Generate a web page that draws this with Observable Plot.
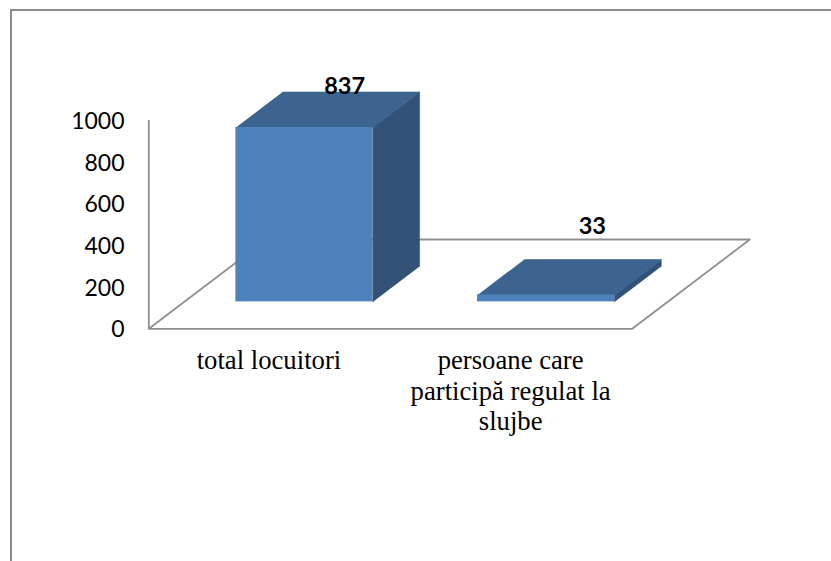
<!DOCTYPE html>
<html>
<head>
<meta charset="utf-8">
<script src="https://cdn.jsdelivr.net/npm/d3@7"></script>
<script src="https://cdn.jsdelivr.net/npm/@observablehq/plot@0.6"></script>
<style>
html,body{margin:0;padding:0;background:#fff;overflow:hidden}
#wrap{position:relative;width:831px;height:561px}
#frame{position:absolute;left:10px;top:9px;right:0;bottom:0;border-top:2px solid #8c8c8c;border-left:2px solid #8c8c8c}
#wrap svg{position:absolute;left:0;top:0;background:transparent}
</style>
</head>
<body>
<div id="wrap"><div id="frame"></div></div>
<script>
const categories = ["total locuitori", "persoane care\nparticipă regulat la\nslujbe"];
const values = [837, 33];
const yTicks = [0, 200, 400, 600, 800, 1000];

// projection of the 3D box: depth d (0 front, 1 back) shifts x and y in data units
const depthX = 0.4866, depthY = 428.7;
const barGap = 0.2135, barWidth = 0.5665;
const depthFront = 0.3015, depthBack = 0.699;
const P = (x, v, d) => ({x: x + d * depthX, y: v + d * depthY});

const floor = [P(0,0,0), P(2,0,0), P(2,0,1), P(0,0,1), P(0,0,0)];
const bars = values.map((v, i) => {
  const l = i + barGap, r = l + barWidth;
  return {v, i, l, r,
    front: P(l, 0, depthFront), frontR: P(r, v, depthFront),
    top: [P(l,v,depthFront), P(r,v,depthFront), P(r,v,depthBack), P(l,v,depthBack)].map(p => ({...p, k: i})),
    side: [P(r,0,depthFront), P(r,v,depthFront), P(r,v,depthBack), P(r,0,depthBack)].map(p => ({...p, k: i}))
  };
});
const tops = bars.flatMap(b => b.top);
const sides = bars.flatMap(b => b.side);
const labels = categories.map((c, i) => ({c, x: i + 0.497}));
const axisColor = "#8f8f8f";

const chart = Plot.plot({
  width: 831, height: 561,
  marginLeft: 0, marginRight: 0, marginTop: 0, marginBottom: 0,
  style: {background: "transparent"},
  x: {type: "linear", domain: [0, 2], range: [148.3, 631.7], axis: null},
  y: {type: "linear", domain: [0, 1000], range: [328.3, 120], axis: null},
  marks: [
    Plot.line(floor, {x: "x", y: "y", stroke: axisColor, strokeWidth: 1.8}),
    Plot.ruleX([0], {y1: 0, y2: 1000, stroke: axisColor, strokeWidth: 1.8}),
    Plot.axisY({ticks: yTicks, tickSize: 0, tickPadding: 0, label: null, anchor: "left", fontSize: 23, fontFamily: "Lato", fill: "#000", dx: 148 - 24, dy: 1, textAnchor: "end", tickFormat: d => String(d)}),
    Plot.line(sides, {x: "x", y: "y", z: "k", fill: "#325278", stroke: "#325278", strokeWidth: 0.6}),
    Plot.line(tops, {x: "x", y: "y", z: "k", fill: "#3d6491", stroke: "#3d6491", strokeWidth: 0.6}),
    Plot.rect(bars, {
      x1: d => d.front.x, x2: d => d.frontR.x,
      y1: d => d.front.y, y2: d => d.frontR.y,
      fill: "#4f81bd", inset: 0
    }),
    Plot.text(labels, {x: "x", y: 0, text: "c", dy: 19, lineAnchor: "top", lineHeight: 1.14, fontSize: 26.7, fontFamily: "Liberation Serif", fill: "#000", textAnchor: "middle"}),
    Plot.text([values[0]], {x: 0.81, y: d => d, text: d => String(d), dy: -68, fontSize: 23.5, fontWeight: "bold", fontFamily: "Lato", fill: "#000"}),
    Plot.text([values[1]], {x: 1.835, y: d => d, text: d => String(d), dy: -95, fontSize: 23.5, fontWeight: "bold", fontFamily: "Lato", fill: "#000"})
  ]
});
document.getElementById("wrap").appendChild(chart);
</script>
</body>
</html>
